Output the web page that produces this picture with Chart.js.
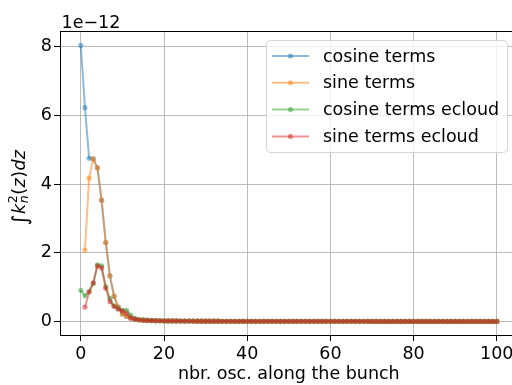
<!DOCTYPE html>
<html>
<head>
<meta charset="utf-8">
<script src="https://cdn.jsdelivr.net/npm/chart.js@4/dist/chart.umd.min.js"></script>
<style>
  html, body { margin: 0; padding: 0; background: #fff; overflow: hidden; }
</style>
</head>
<body>
<!-- canvas is a bit wider than the window: the right spine sits just outside the picture -->
<canvas id="oscChart" width="530" height="385"></canvas>
<script>
// values in units of 1e-12
const xTicks = [0, 20, 40, 60, 80, 100];
const yTicks = [0, 2, 4, 6, 8];

// n = 20 .. 100, all series sit on top of each other here
const farTail = [
    0.022, 0.020, 0.019, 0.018, 0.017, 0.016, 0.015, 0.014, 0.013, 0.013,
    0.012, 0.012, 0.011, 0.011, 0.010, 0.010, 0.010, 0.009, 0.009, 0.009,
    0.008, 0.008, 0.008, 0.008, 0.008, 0.008, 0.008, 0.008, 0.008, 0.008,
    0.007, 0.007, 0.007, 0.007, 0.007, 0.007, 0.007, 0.007, 0.007, 0.007,
    0.007, 0.007, 0.007, 0.007, 0.007, 0.007, 0.007, 0.007, 0.007, 0.007,
    0.006, 0.006, 0.006, 0.006, 0.006, 0.006, 0.006, 0.006, 0.006, 0.006,
    0.006, 0.006, 0.006, 0.006, 0.006, 0.006, 0.006, 0.006, 0.006, 0.006,
    0.005, 0.005, 0.005, 0.005, 0.005, 0.005, 0.005, 0.005, 0.005, 0.005, 0.005
];

const cosineTerms = [8.03, 6.22, 4.75, 4.73, 4.47, 3.53, 2.30, 1.33, 0.74, 0.42,
    0.22, 0.15, 0.10, 0.07, 0.05, 0.04, 0.035, 0.03, 0.027, 0.024, ...farTail];
const sineTerms = [null, 2.07, 4.17, 4.73, 4.47, 3.53, 2.30, 1.33, 0.74, 0.42,
    0.22, 0.15, 0.10, 0.07, 0.05, 0.04, 0.035, 0.03, 0.027, 0.024, ...farTail];
const cosineEcloud = [0.91, 0.75, 0.88, 1.11, 1.65, 1.62, 1.02, 0.67, 0.46, 0.38,
    0.33, 0.33, 0.19, 0.09, 0.06, 0.05, 0.04, 0.035, 0.03, 0.025, ...farTail];
const sineEcloud = [null, 0.42, 0.86, 1.13, 1.62, 1.56, 0.97, 0.58, 0.44, 0.36,
    0.31, 0.24, 0.11, 0.07, 0.05, 0.04, 0.035, 0.03, 0.027, 0.024, ...farTail];

const seriesNames = ['cosine terms', 'sine terms', 'cosine terms ecloud', 'sine terms ecloud'];
const seriesColors = ['rgba(31,119,180,0.5)', 'rgba(255,127,14,0.5)', 'rgba(44,160,44,0.5)', 'rgba(214,39,40,0.5)'];

const FONT = '"DejaVu Sans", sans-serif';

const toPoints = arr => arr.map((v, i) => ({ x: i, y: v }));

const makeSet = (k, values) => ({
    label: seriesNames[k],
    data: toPoints(values),
    borderColor: seriesColors[k],
    backgroundColor: seriesColors[k],
    pointBackgroundColor: seriesColors[k],
    pointBorderWidth: 0,
    pointRadius: 2.6,
    borderWidth: 2,
    tension: 0,
    fill: false,
    spanGaps: false,
    order: 3 - k
});

// frame, offset text, y label and legend box
const extrasPlugin = {
    id: 'extras',
    afterDraw(chart) {
        const ctx = chart.ctx;
        const area = chart.chartArea;
        ctx.save();

        // top and right spines
        ctx.strokeStyle = '#000';
        ctx.lineWidth = 1;
        ctx.beginPath();
        ctx.moveTo(area.left, area.top + 0.5);
        ctx.lineTo(area.right, area.top + 0.5);
        ctx.lineTo(area.right, area.bottom);
        ctx.stroke();

        // offset text
        ctx.fillStyle = '#000';
        ctx.font = '17.5px ' + FONT;
        ctx.textAlign = 'left';
        ctx.textBaseline = 'alphabetic';
        ctx.fillText('1e\u221212', 61.5, 28);

        // y axis label  ∫ k_n^2(z) dz
        ctx.save();
        ctx.translate(24.5, 187.5);
        ctx.rotate(-Math.PI / 2);
        const parts = [
            { t: '\u222B', f: '21px ' + FONT, dy: 2 },
            { t: 'k', f: 'italic 17.5px ' + FONT, dy: 0 },
            { t: '2', f: '12.5px ' + FONT, dy: -7.5, sub: 'n' },
            { t: '(', f: '17.5px ' + FONT, dy: 0 },
            { t: 'z', f: 'italic 17.5px ' + FONT, dy: 0 },
            { t: ')', f: '17.5px ' + FONT, dy: 0 },
            { t: 'dz', f: 'italic 17.5px ' + FONT, dy: 0 }
        ];
        let total = 0;
        parts.forEach(p => {
            ctx.font = p.f;
            p.w = ctx.measureText(p.t).width;
            if (p.sub) {
                ctx.font = 'italic 12.5px ' + FONT;
                p.w = Math.max(p.w, ctx.measureText(p.sub).width);
            }
            total += p.w + 0.5;
        });
        let px = -total / 2;
        parts.forEach(p => {
            ctx.font = p.f;
            ctx.fillText(p.t, px, p.dy);
            if (p.sub) {
                ctx.font = 'italic 12.5px ' + FONT;
                ctx.fillText(p.sub, px, 3.5);
            }
            px += p.w + 0.5;
        });
        ctx.restore();

        // legend
        const bx = 266.5, by = 40.5, bw = 241, bh = 112;
        ctx.beginPath();
        ctx.roundRect(bx, by, bw, bh, 4);
        ctx.fillStyle = 'rgba(255,255,255,0.8)';
        ctx.fill();
        ctx.strokeStyle = '#d5d5d5';
        ctx.lineWidth = 1;
        ctx.stroke();
        ctx.font = '17.5px ' + FONT;
        ctx.textBaseline = 'middle';
        chart.data.datasets.forEach((ds, i) => {
            const ry = 56 + i * 26.8;
            ctx.strokeStyle = ds.borderColor;
            ctx.lineWidth = 2;
            ctx.beginPath();
            ctx.moveTo(272, ry);
            ctx.lineTo(309, ry);
            ctx.stroke();
            ctx.fillStyle = ds.borderColor;
            ctx.beginPath();
            ctx.arc(290.5, ry, 2.6, 0, Math.PI * 2);
            ctx.fill();
            ctx.fillStyle = '#000';
            ctx.fillText(ds.label, 323, ry + 1);
        });
        ctx.restore();
    }
};

new Chart(document.getElementById('oscChart'), {
    type: 'line',
    data: {
        datasets: [
            makeSet(0, cosineTerms),
            makeSet(1, sineTerms),
            makeSet(2, cosineEcloud),
            makeSet(3, sineEcloud)
        ]
    },
    options: {
        responsive: false,
        animation: false,
        devicePixelRatio: 1,
        layout: { padding: { top: 31, left: 0, right: 12.4, bottom: 0 } },
        plugins: {
            legend: { display: false },
            tooltip: { enabled: false },
            title: { display: false }
        },
        scales: {
            x: {
                type: 'linear',
                min: -5,
                max: 105,
                afterBuildTicks: s => { s.ticks = xTicks.map(v => ({ value: v })); },
                afterFit: s => { s.height = 50; },
                grid: { color: 'rgba(176,176,176,0.85)', lineWidth: 1, tickColor: '#000', tickLength: 6, tickWidth: 1 },
                border: { display: true, color: '#000', width: 1 },
                ticks: { color: '#000', font: { family: FONT, size: 17.5 }, padding: 3, maxRotation: 0, autoSkip: false },
                title: {
                    display: true,
                    text: 'nbr. osc. along the bunch',
                    color: '#000',
                    font: { family: FONT, size: 17.5 },
                    padding: { top: 0, bottom: 0 }
                }
            },
            y: {
                min: -0.39,
                max: 8.45,
                afterBuildTicks: s => { s.ticks = yTicks.map(v => ({ value: v })); },
                afterFit: s => { s.width = 60; },
                grid: { color: 'rgba(176,176,176,0.85)', lineWidth: 1, tickColor: '#000', tickLength: 6, tickWidth: 1 },
                border: { display: true, color: '#000', width: 1 },
                ticks: { color: '#000', font: { family: FONT, size: 17.5 }, padding: 2 }
            }
        }
    },
    plugins: [extrasPlugin]
});
</script>
</body>
</html>
